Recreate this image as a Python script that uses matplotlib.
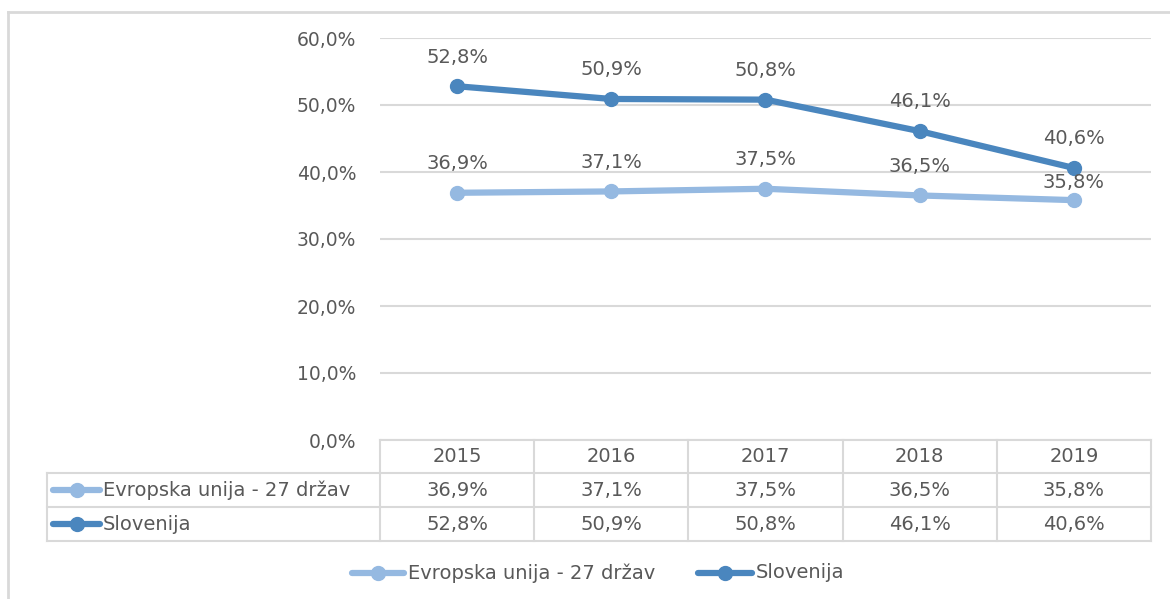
import matplotlib
matplotlib.use("Agg")
import matplotlib.pyplot as plt
from matplotlib.lines import Line2D

years = ["2015", "2016", "2017", "2018", "2019"]
eu = [36.9, 37.1, 37.5, 36.5, 35.8]
slo = [52.8, 50.9, 50.8, 46.1, 40.6]
names = ["Evropska unija - 27 držav", "Slovenija"]
yticks = [0, 10, 20, 30, 40, 50, 60]

c_eu = "#95b9e1"
c_slo = "#4a86be"
c_text = "#595959"
c_grid = "#d9d9d9"
fs = 14

plt.rcParams['font.family'] = ['DejaVu Sans']

W, H = 1170, 599
fig = plt.figure(figsize=(W / 100, H / 100), dpi=100)

def fx(px):
    return px / W

def fy(py):
    return 1 - py / H

def fig_line(x0, y0, x1, y1, color=c_grid, lw=1.5):
    fig.add_artist(Line2D([fx(x0), fx(x1)], [fy(y0), fy(y1)], color=color, lw=lw,
                          transform=fig.transFigure))

def pct(v):
    return f"{v:.1f}%".replace(".", ",")

# plot area
left, right, top, bottom = 380, 1151, 38, 440
ax = fig.add_axes([fx(left), fy(bottom), fx(right) - fx(left), fy(top) - fy(bottom)])
x = list(range(len(years)))
ax.set_xlim(-0.5, len(years) - 0.5)
ax.set_ylim(0, 60)
ax.set_yticks(yticks)
ax.set_yticklabels([f"{t},0%" for t in yticks], color=c_text, fontsize=13.5)
ax.tick_params(axis="y", length=0, pad=17)
ax.set_xticks([])
for s in ax.spines.values():
    s.set_visible(False)
ax.grid(axis="y", color=c_grid, lw=1.5)
ax.set_axisbelow(True)

ax.plot(x, eu, color=c_eu, lw=4.5, marker="o", ms=10, solid_capstyle="round", zorder=3)
ax.plot(x, slo, color=c_slo, lw=4.5, marker="o", ms=10, solid_capstyle="round", zorder=3)

for i in x:
    ax.annotate(pct(slo[i]), (i, slo[i]), xytext=(0, 21), textcoords="offset points",
                ha="center", va="center", color=c_text, fontsize=fs)
    off = 13 if i == len(x) - 1 else 21
    ax.annotate(pct(eu[i]), (i, eu[i]), xytext=(0, off), textcoords="offset points",
                ha="center", va="center", color=c_text, fontsize=fs)

# data table
col_w = (right - left) / len(years)
row_y = [440, 473, 507, 541]
tab_left = 47
fig_line(left, row_y[0], right, row_y[0])
for ry in row_y[1:]:
    fig_line(tab_left, ry, right, ry)
fig_line(tab_left, row_y[1], tab_left, row_y[3])
for i in range(len(years) + 1):
    xx = left + i * col_w
    fig_line(xx, row_y[0], xx, row_y[3])

for i, yr in enumerate(years):
    cx = fx(left + (i + 0.5) * col_w)
    fig.text(cx, fy((row_y[0] + row_y[1]) / 2), yr, ha="center", va="center",
             color=c_text, fontsize=fs)
    fig.text(cx, fy((row_y[1] + row_y[2]) / 2), pct(eu[i]), ha="center", va="center",
             color=c_text, fontsize=fs)
    fig.text(cx, fy((row_y[2] + row_y[3]) / 2), pct(slo[i]), ha="center", va="center",
             color=c_text, fontsize=fs)

def legend_key(x0, x1, yy, color):
    fig.add_artist(Line2D([fx(x0), fx(x1)], [fy(yy), fy(yy)], color=color, lw=4.5,
                          solid_capstyle="round", transform=fig.transFigure))
    fig.add_artist(Line2D([fx((x0 + x1) / 2)], [fy(yy)], color=color, marker="o", ms=10,
                          transform=fig.transFigure))

for k, (name, col) in enumerate(zip(names, [c_eu, c_slo])):
    yy = (row_y[k + 1] + row_y[k + 2]) / 2
    legend_key(53, 100, yy, col)
    fig.text(fx(103), fy(yy), name, ha="left", va="center", color=c_text, fontsize=fs)

# bottom legend
legend_key(352, 404, 573, c_eu)
fig.text(fx(408), fy(573), names[0], ha="left", va="center", color=c_text, fontsize=fs)
legend_key(698, 752, 573, c_slo)
fig.text(fx(756), fy(573), names[1], ha="left", va="center", color=c_text, fontsize=fs)

# outer frame
fig_line(8, 12, W, 12, lw=2)
fig_line(8, 12, 8, H, lw=2)

fig.savefig("out.png", dpi=100, facecolor="white")
